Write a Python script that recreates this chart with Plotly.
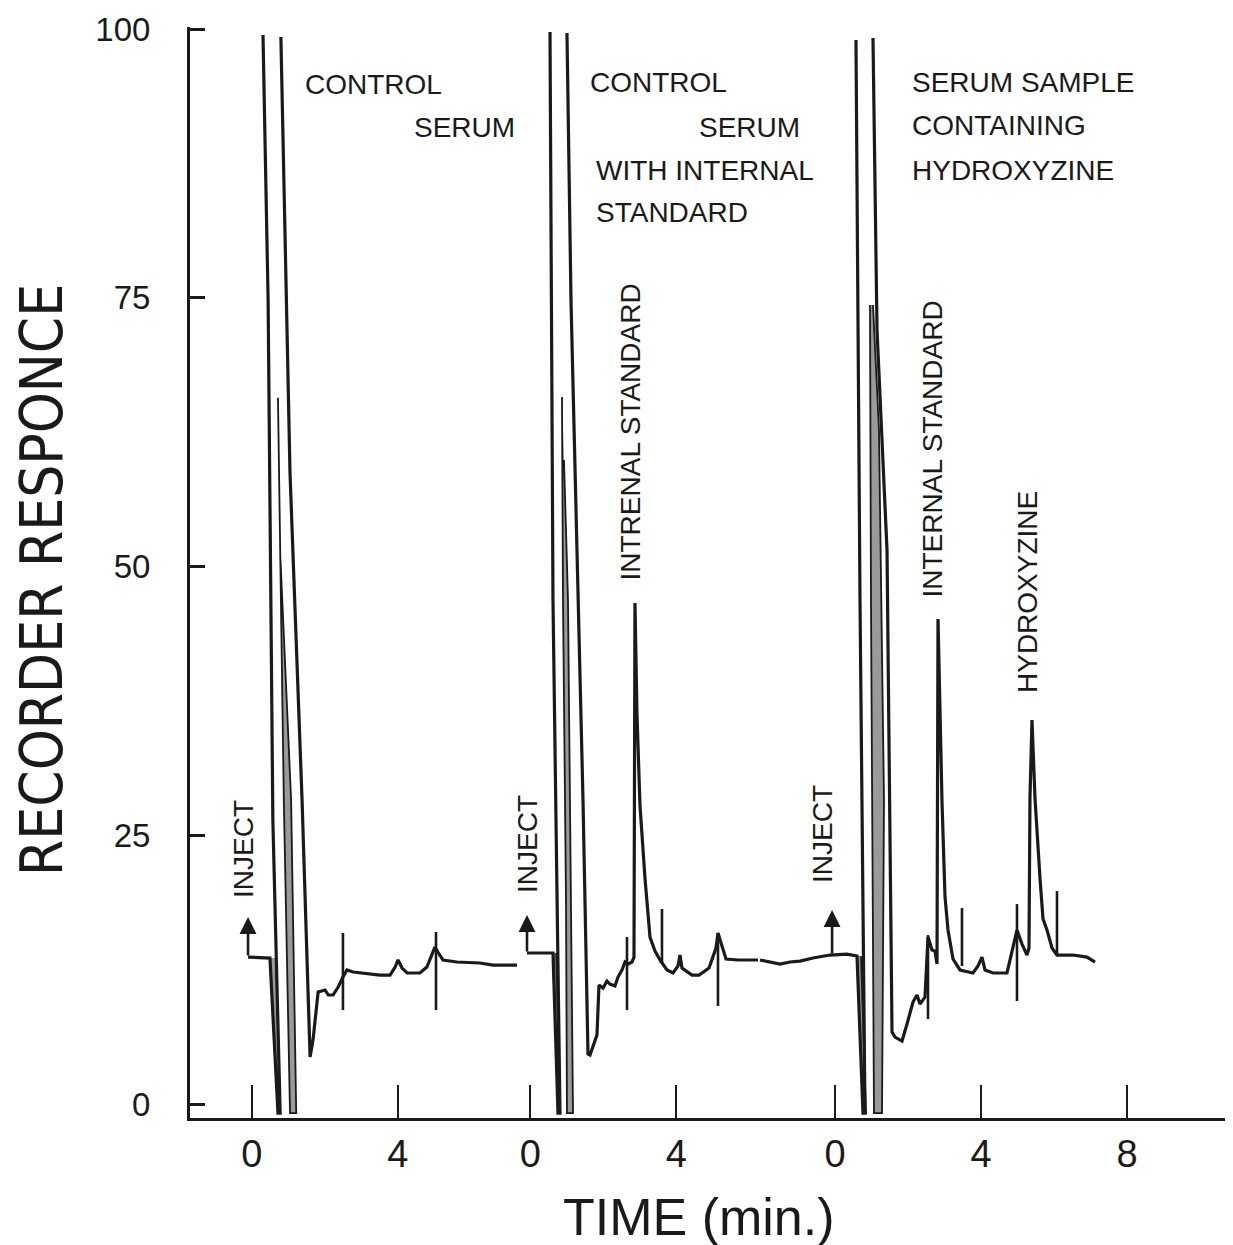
import plotly.graph_objects as go

# ---------------- data (time in min, response in %) ----------------
# horizontal offsets of the three chromatograms on the shared time axis
OFFSETS = [0.0, 7.633, 15.981]
x_tick_vals = [0, 4, 7.633, 11.633, 15.981, 19.981, 23.981]
x_tick_text = ["0", "4", "0", "4", "0", "4", "8"]
y_tick_vals = [0, 25, 50, 75, 100]
y_tick_text = [str(v) for v in y_tick_vals]

# --- chromatogram 1 : control serum ---
s1_front_t = [-0.10, 0.50, 0.72, 0.78, 0.58, 0.45, 0.31]
s1_front_v = [13.67, 13.58, -0.84, -0.84, 26.42, 74.79, 99.44]
s1_tail_t = [0.80, 0.94, 1.05, 1.38, 1.60, 1.68, 1.82, 2.01, 2.10, 2.23, 2.37, 2.50,
             2.61, 2.78, 3.51, 3.79, 3.93, 4.01, 4.12, 4.26, 4.61, 4.80, 4.94, 5.02,
             5.10, 5.24, 5.62, 6.25, 6.61, 6.80, 7.27]
s1_tail_v = [99.26, 74.79, 58.70, 28.28, 4.37, 5.95, 10.42, 10.60, 10.14, 10.14, 10.88,
             11.81, 12.47, 12.28, 12.00, 12.00, 12.74, 13.40, 12.65, 12.19, 12.19, 12.74,
             13.86, 14.60, 14.14, 13.40, 13.21, 13.12, 12.93, 12.93, 12.93]
s1_wedge_t = [0.50, 0.72, 0.78, 0.67]
s1_wedge_v = [13.58, -0.84, -0.84, 13.58]
s1_inner_t = [0.72, 0.88, 1.05, 1.22, 1.08, 0.79]
s1_inner_v = [65.7, 28.28, -0.84, -0.84, 28.28, 50.6]
s1_mark_t = [2.50, 5.05]
s1_mark_top = [15.91, 16.0]
s1_mark_bot = [8.74, 8.74]
s1_inject = [-0.10, 13.67, 17.4]

# --- chromatogram 2 : control serum with internal standard ---
s2_front_t = [-0.09, 0.622, 0.759, 0.814, 0.622, 0.540]
s2_front_v = [14.05, 14.05, -0.84, -0.84, 46.88, 99.72]
s2_tail_t = [1.005, 1.115, 1.279, 1.444, 1.581, 1.636, 1.827, 1.882, 1.992, 2.101, 2.184,
             2.321, 2.403, 2.512, 2.595, 2.677, 2.786, 2.841, 2.868, 2.923, 3.005, 3.142,
             3.279, 3.416, 3.553, 3.745, 3.910, 4.047, 4.101, 4.156, 4.430, 4.622, 4.896,
             5.088, 5.142, 5.252, 5.362, 5.690, 6.238]
s2_tail_v = [99.63, 74.79, 51.53, 28.28, 4.65, 4.56, 6.42, 11.07, 10.79, 11.44, 11.16,
             10.98, 11.81, 12.47, 13.21, 13.02, 13.21, 13.67, 46.60, 36.28, 27.81, 21.02,
             15.53, 14.23, 13.40, 12.47, 12.19, 12.84, 13.86, 12.65, 12.00, 12.00, 12.65,
             14.51, 15.91, 14.70, 13.49, 13.40, 13.40]
s2_wedge_t = [0.622, 0.759, 0.814, 0.710]
s2_wedge_v = [14.05, -0.84, -0.84, 14.05]
s2_inner_t = [0.868, 0.896, 0.978, 1.005, 1.170, 1.115, 1.033, 0.923]
s2_inner_v = [65.77, 46.88, 18.98, -0.84, -0.84, 18.98, 46.88, 59.91]
s2_mark_t = [2.649, 3.608, 5.142]
s2_mark_top = [15.53, 18.14, 15.91]
s2_mark_bot = [8.74, 13.02, 9.12]
s2_inject = [-0.09, 14.05, 17.58]

# --- chromatogram 3 : serum sample containing hydroxyzine ---
s3_front_t = [-2.055, -1.507, -1.233, -0.959, -0.603, -0.137, 0.329, 0.603, 0.767,
              0.822, 0.685, 0.575]
s3_front_v = [13.40, 13.02, 13.21, 13.30, 13.58, 13.86, 13.95, 13.77, -0.84,
              -0.84, 46.88, 98.98]
s3_tail_t = [1.041, 1.151, 1.425, 1.507, 1.562, 1.644, 1.836, 1.973, 2.137, 2.247, 2.329,
             2.466, 2.548, 2.658, 2.740, 2.795, 2.822, 2.932, 3.014, 3.096, 3.233, 3.425,
             3.781, 3.918, 4.027, 4.110, 4.329, 4.712, 4.849, 4.932, 4.986, 5.123, 5.260,
             5.315, 5.342, 5.397, 5.479, 5.616, 5.699, 5.808, 5.945, 6.082, 6.521, 6.904,
             7.123]
s3_tail_v = [99.16, 72.00, 51.53, 28.28, 6.70, 6.23, 5.86, 7.44, 9.49, 10.14, 9.30,
             9.95, 15.53, 14.33, 14.23, 13.02, 45.12, 28.09, 19.26, 16.19, 13.49, 12.47,
             12.19, 12.84, 13.67, 12.47, 12.19, 12.19, 14.23, 15.53, 16.19, 14.88, 13.86,
             14.51, 28.47, 35.72, 28.47, 21.02, 17.21, 16.19, 14.51, 13.86, 13.86, 13.67,
             13.21]
s3_wedge_t = [0.603, 0.767, 0.849, 0.712]
s3_wedge_v = [13.77, -0.84, -0.84, 13.77]
s3_inner_t = [0.959, 0.986, 1.068, 1.288, 1.342, 1.205, 1.041]
s3_inner_v = [74.33, 46.88, -0.84, -0.84, 28.28, 62.70, 74.33]
s3_mark_t = [2.548, 3.479, 4.986, 6.082]
s3_mark_top = [15.72, 18.23, 18.60, 19.81]
s3_mark_bot = [7.91, 12.84, 9.58, 13.86]
s3_inject = [-0.08, 13.86, 18.05]

segments = [
    dict(front=(s1_front_t, s1_front_v), tail=(s1_tail_t, s1_tail_v),
         wedge=(s1_wedge_t, s1_wedge_v), inner=(s1_inner_t, s1_inner_v),
         marks=(s1_mark_t, s1_mark_top, s1_mark_bot), inject=s1_inject),
    dict(front=(s2_front_t, s2_front_v), tail=(s2_tail_t, s2_tail_v),
         wedge=(s2_wedge_t, s2_wedge_v), inner=(s2_inner_t, s2_inner_v),
         marks=(s2_mark_t, s2_mark_top, s2_mark_bot), inject=s2_inject),
    dict(front=(s3_front_t, s3_front_v), tail=(s3_tail_t, s3_tail_v),
         wedge=(s3_wedge_t, s3_wedge_v), inner=(s3_inner_t, s3_inner_v),
         marks=(s3_mark_t, s3_mark_top, s3_mark_bot), inject=s3_inject),
]

# ---------------- figure ----------------
INK = "#1a1a1a"
GREY = "#9a9a9a"
W, H = 1233, 1245
ML, MR, MT, MB = 190, 8, 27, 127
PW, PH = W - ML - MR, H - MT - MB


def fx(xp):
    return (xp - ML) / PW


def fy(yp):
    return (H - MB - yp) / PH


fig = go.Figure()
annotations = []

for off, seg in zip(OFFSETS, segments):
    def sh(ts):
        return [t + off for t in ts]

    for key in ("wedge", "inner"):
        t, v = seg[key]
        fig.add_trace(go.Scatter(x=sh(t), y=v, mode="lines", fill="toself",
                                 fillcolor=GREY, line=dict(color=INK, width=1.8),
                                 hoverinfo="skip", showlegend=False))
    for key in ("front", "tail"):
        t, v = seg[key]
        fig.add_trace(go.Scatter(x=sh(t), y=v, mode="lines",
                                 line=dict(color=INK, width=3.2),
                                 hoverinfo="skip", showlegend=False))
    mt, mtop, mbot = seg["marks"]
    mx, my = [], []
    for t, a, b in zip(mt, mtop, mbot):
        mx += [t + off, t + off, None]
        my += [b, a, None]
    fig.add_trace(go.Scatter(x=mx, y=my, mode="lines",
                             line=dict(color=INK, width=2.6),
                             hoverinfo="skip", showlegend=False))
    it, ib, itop = seg["inject"]
    annotations.append(dict(x=it + off, y=itop, ax=it + off, ay=ib, xref="x", yref="y",
                            axref="x", ayref="y", text="", showarrow=True,
                            arrowhead=2, arrowsize=1.3, arrowwidth=2.6,
                            arrowcolor=INK))

TXT = dict(family="Liberation Sans, Arial, sans-serif", size=28, color=INK)

horiz = [
    ("CONTROL", 303, 85), ("SERUM", 412, 127),
    ("CONTROL", 588, 82), ("SERUM", 697, 128),
    ("WITH INTERNAL", 594, 170), ("STANDARD", 594, 213),
    ("SERUM SAMPLE", 910, 82), ("CONTAINING", 910, 126), ("HYDROXYZINE", 910, 170),
]
for s, xp, yp in horiz:
    annotations.append(dict(text=s, x=fx(xp), y=fy(yp), xref="paper", yref="paper",
                            xanchor="left", yanchor="middle", showarrow=False, font=TXT))

vert = [
    ("INJECT", 243, 900), ("INJECT", 527, 895), ("INJECT", 822, 885),
    ("INTRENAL STANDARD", 630, 583), ("INTERNAL STANDARD", 932, 600),
    ("HYDROXYZINE", 1027, 695),
]
for s, xp, yp in vert:
    annotations.append(dict(text=s, x=fx(xp), y=fy(yp), xref="paper", yref="paper",
                            xanchor="center", yanchor="bottom", textangle=-90,
                            showarrow=False, font=TXT))

annotations.append(dict(text="RECORDER RESPONCE", x=fx(42), y=fy(580), xref="paper",
                        yref="paper", xanchor="center", yanchor="middle", textangle=-90,
                        showarrow=False,
                        font=dict(family="Liberation Sans Narrow, DejaVu Sans Condensed, Liberation Sans, sans-serif",
                                  size=58, color=INK)))
annotations.append(dict(text="TIME (min.)", x=fx(699), y=fy(1217), xref="paper",
                        yref="paper", xanchor="center", yanchor="middle",
                        showarrow=False,
                        font=dict(family="Liberation Sans, Arial, sans-serif",
                                  size=52, color=INK)))

fig.update_layout(
    width=W, height=H,
    margin=dict(l=ML, r=MR, t=MT, b=MB),
    paper_bgcolor="white", plot_bgcolor="white",
    showlegend=False,
    annotations=annotations,
    xaxis=dict(range=[-1.690, 26.666], tickmode="array", tickvals=x_tick_vals,
               ticktext=x_tick_text, ticks="inside", ticklen=33, tickwidth=2.4,
               tickcolor=INK, showline=True, linecolor=INK, linewidth=3,
               showgrid=False, zeroline=False, ticklabelstandoff=0,
               tickfont=dict(family="Liberation Sans, Arial, sans-serif", size=38,
                             color=INK)),
    yaxis=dict(range=[-1.30, 100.19], tickmode="array", tickvals=y_tick_vals,
               ticktext=y_tick_text, ticks="inside", ticklen=15, tickwidth=3,
               tickcolor=INK, showline=True, linecolor=INK, linewidth=3,
               showgrid=False, zeroline=False, ticklabelstandoff=30,
               tickfont=dict(family="Liberation Sans, Arial, sans-serif", size=33,
                             color=INK)),
)

fig.write_html("out.html")
